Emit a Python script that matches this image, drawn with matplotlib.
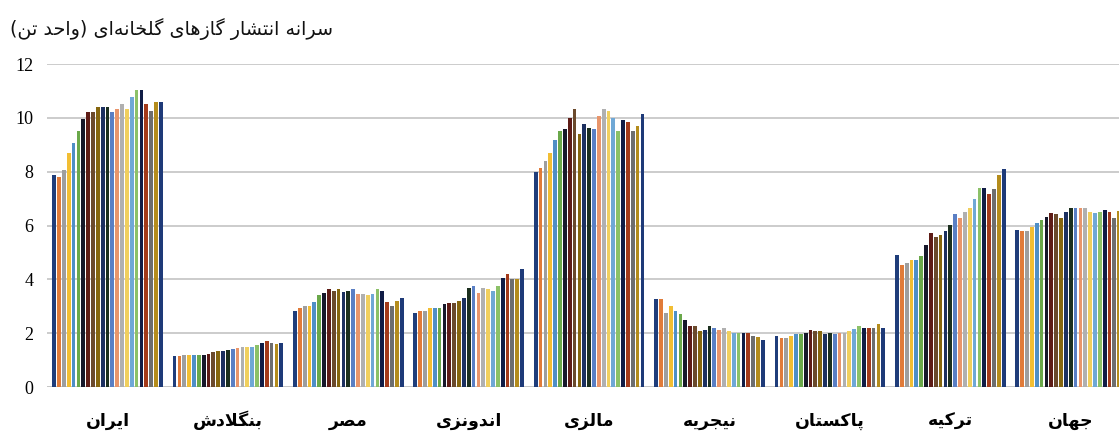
import numpy as np
import matplotlib
matplotlib.use("Agg")
import matplotlib.pyplot as plt

# ---------------- data ----------------
title_text = "سرانه انتشار گازهای گلخانه‌ای (واحد تن)"
categories = ["ایران", "بنگلادش", "مصر", "اندونزی", "مالزی", "نیجریه", "پاکستان", "ترکیه", "جهان"]

iran = [7.86, 7.8, 8.05, 8.68, 9.07, 9.51, 9.96, 10.2, 10.2, 10.39, 10.39, 10.39,
        10.2, 10.33, 10.53, 10.33, 10.77, 11.02, 11.02, 10.52, 10.26, 10.58, 10.58]
bangladesh = [1.14, 1.14, 1.2, 1.2, 1.2, 1.2, 1.2, 1.24, 1.3, 1.35, 1.35, 1.39,
              1.4, 1.45, 1.47, 1.5, 1.5, 1.56, 1.64, 1.7, 1.65, 1.58, 1.65]
egypt = [2.83, 2.94, 3.01, 3.02, 3.14, 3.4, 3.51, 3.63, 3.57, 3.63, 3.53, 3.57,
         3.63, 3.45, 3.45, 3.41, 3.45, 3.63, 3.57, 3.14, 3.01, 3.2, 3.32]
indonesia = [2.75, 2.84, 2.84, 2.95, 2.94, 2.94, 3.07, 3.12, 3.12, 3.2, 3.31, 3.69,
             3.77, 3.51, 3.69, 3.65, 3.57, 3.77, 4.06, 4.19, 4.0, 4.0, 4.39]
malaysia = [8.0, 8.13, 8.38, 8.7, 9.19, 9.51, 9.59, 10.01, 10.33, 9.39, 9.76, 9.64,
            9.58, 10.08, 10.33, 10.26, 10.01, 9.51, 9.91, 9.83, 9.51, 9.7, 10.14]
nigeria = [3.28, 3.26, 2.75, 3.0, 2.83, 2.7, 2.5, 2.27, 2.27, 2.07, 2.13, 2.27,
           2.2, 2.13, 2.2, 2.07, 2.0, 2.0, 2.0, 2.0, 1.9, 1.84, 1.76]
pakistan = [1.9, 1.82, 1.82, 1.9, 1.96, 1.96, 2.0, 2.13, 2.07, 2.07, 1.96, 2.0,
            1.96, 2.0, 2.0, 2.07, 2.17, 2.26, 2.2, 2.2, 2.2, 2.33, 2.2]
turkey = [4.91, 4.54, 4.6, 4.73, 4.73, 4.85, 5.28, 5.72, 5.59, 5.65, 5.78, 6.02,
          6.42, 6.27, 6.52, 6.64, 6.98, 7.41, 7.41, 7.16, 7.35, 7.88, 8.09]
world = [5.84, 5.78, 5.78, 5.96, 6.09, 6.21, 6.33, 6.46, 6.42, 6.27, 6.52, 6.64,
         6.64, 6.64, 6.64, 6.52, 6.48, 6.52, 6.58, 6.52, 6.27, 6.55, 6.3]

yticks = [0, 2, 4, 6, 8, 10, 12]

series_colors = ["#1F3D7A", "#E07B39", "#9E9E9E", "#F2BE33", "#4F8FC6", "#6AA84A",
                 "#16182A", "#5E1C16", "#6B4A2C", "#86660E", "#1C3060", "#1B2F1E",
                 "#5A7FC4", "#E8956B", "#B0B0B0", "#F0CF5E", "#6FA8D6", "#8CC168",
                 "#101C45", "#A33A1A", "#6E6E6E", "#B48C1C", "#1E3A78"]

# ------------- simple Persian shaping (presentation forms + RTL order) -------------
FORMS = {
    'ا': ('\uFE8D', '\uFE8E', None, None),
    'ب': ('\uFE8F', '\uFE90', '\uFE91', '\uFE92'),
    'پ': ('\uFB56', '\uFB57', '\uFB58', '\uFB59'),
    'ت': ('\uFE95', '\uFE96', '\uFE97', '\uFE98'),
    'ج': ('\uFE9D', '\uFE9E', '\uFE9F', '\uFEA0'),
    'ح': ('\uFEA1', '\uFEA2', '\uFEA3', '\uFEA4'),
    'خ': ('\uFEA5', '\uFEA6', '\uFEA7', '\uFEA8'),
    'د': ('\uFEA9', '\uFEAA', None, None),
    'ر': ('\uFEAD', '\uFEAE', None, None),
    'ز': ('\uFEAF', '\uFEB0', None, None),
    'س': ('\uFEB1', '\uFEB2', '\uFEB3', '\uFEB4'),
    'ش': ('\uFEB5', '\uFEB6', '\uFEB7', '\uFEB8'),
    'ص': ('\uFEB9', '\uFEBA', '\uFEBB', '\uFEBC'),
    'ل': ('\uFEDD', '\uFEDE', '\uFEDF', '\uFEE0'),
    'م': ('\uFEE1', '\uFEE2', '\uFEE3', '\uFEE4'),
    'ن': ('\uFEE5', '\uFEE6', '\uFEE7', '\uFEE8'),
    'ه': ('\uFEE9', '\uFEEA', '\uFEEB', '\uFEEC'),
    'و': ('\uFEED', '\uFEEE', None, None),
    'ک': ('\uFB8E', '\uFB8F', '\uFB90', '\uFB91'),
    'گ': ('\uFB92', '\uFB93', '\uFB94', '\uFB95'),
    'ی': ('\uFBFC', '\uFBFD', '\uFBFE', '\uFBFF'),
}


def shape(s):
    chars = list(s)
    n = len(chars)

    def can_left(c):
        return c in FORMS and FORMS[c][2] is not None

    out = []
    i = 0
    while i < n:
        c = chars[i]
        if c not in FORMS:
            out.append(c)
            i += 1
            continue
        prev = chars[i - 1] if i > 0 else None
        jp = prev is not None and can_left(prev)
        if c == 'ل' and i + 1 < n and chars[i + 1] == 'ا':
            out.append('\uFEFC' if jp else '\uFEFB')
            i += 2
            continue
        nxt = chars[i + 1] if i + 1 < n else None
        jn = can_left(c) and nxt is not None and nxt in FORMS
        iso, fin, ini, med = FORMS[c]
        if jp and jn:
            out.append(med)
        elif jp:
            out.append(fin)
        elif jn:
            out.append(ini)
        else:
            out.append(iso)
        i += 1
    vis = ''.join(out).replace('\u200c', '')[::-1]
    mirror = {'(': ')', ')': '('}
    return ''.join(mirror.get(c, c) for c in vis)


# ---------------- figure ----------------
W, H = 1119, 437
fig = plt.figure(figsize=(W / 100, H / 100), dpi=100)
fig.patch.set_facecolor("white")

x0_px, x_step_px = 107.5, 120.4
left_px = x0_px - 0.5 * x_step_px
width_px = 9 * x_step_px
bottom_px = H - 387
height_px = 387 - 64
ax = fig.add_axes([left_px / W, bottom_px / H, width_px / W, height_px / H])

data = [iran, bangladesh, egypt, indonesia, malaysia, nigeria, pakistan, turkey, world]
vals = np.array(data)  # shape (9, 23)
n_series = vals.shape[1]
pitch = 4.85 / x_step_px
bar_w = pitch * 0.78
x = np.arange(len(categories))
for j in range(n_series):
    ax.bar(x + (j - (n_series - 1) / 2) * pitch, vals[:, j], width=bar_w,
           color=series_colors[j], linewidth=0, zorder=3)

ax.set_xlim(-0.5, 8.5)
ax.set_ylim(0, 12)
ax.set_yticks(yticks)
ax.set_yticklabels([str(v) for v in yticks], fontfamily="Liberation Serif", fontsize=13)
ax.tick_params(axis="y", length=0, pad=10)
ax.tick_params(axis="x", length=0)
ax.set_xticks([])
ax.yaxis.grid(True, color="#C4C4C4", linewidth=1.2, zorder=0)
for s in ax.spines.values():
    s.set_visible(False)
ax.axhline(0, color="#CFCFCF", linewidth=1.2, zorder=1)

for xi, name in zip(x, categories):
    ax.text(xi, -1.25, shape(name), ha="center", va="center", fontsize=12.5,
            fontweight="bold", fontfamily="DejaVu Sans", transform=ax.transData,
            clip_on=False)

fig.text(333 / W, 1 - 29 / H, shape(title_text), ha="right", va="center",
         fontsize=13.8, fontfamily="DejaVu Sans", color="#111111")

fig.savefig("out.png", dpi=100)
